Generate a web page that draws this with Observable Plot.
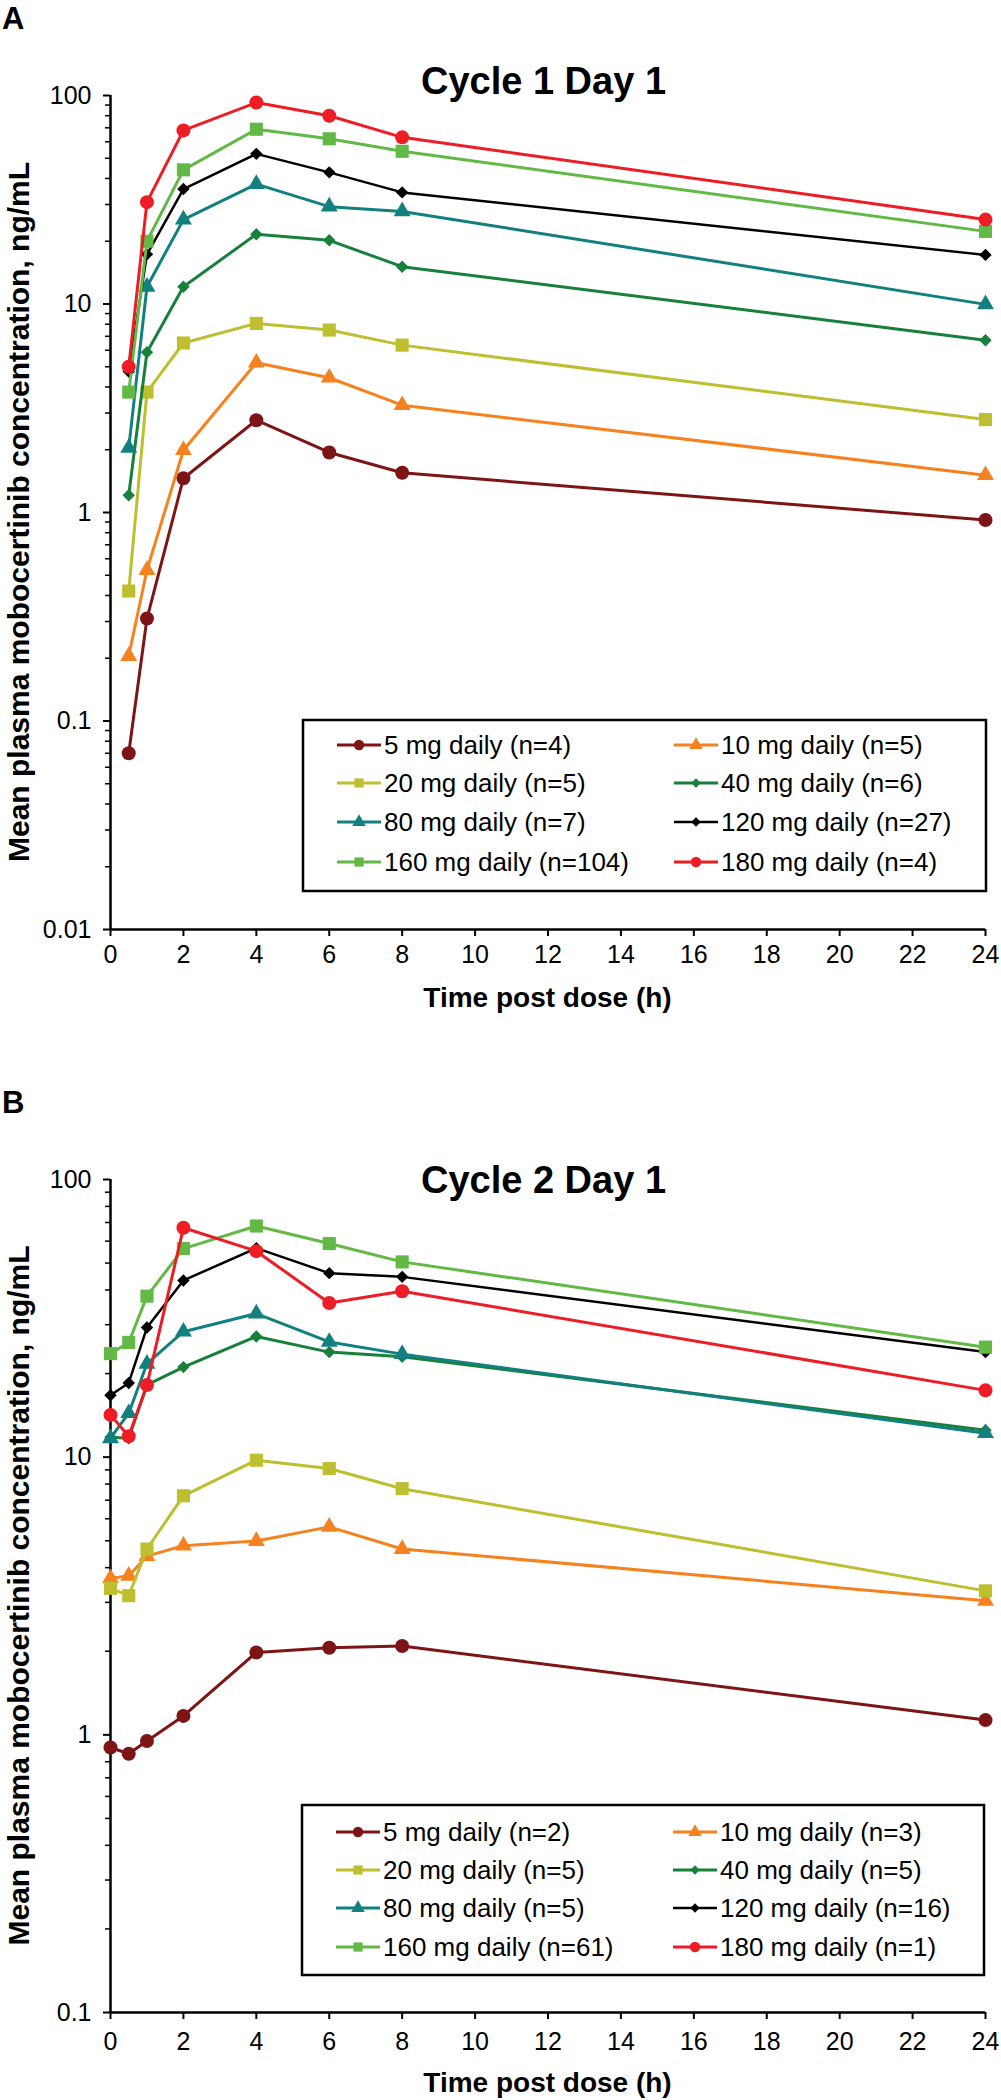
<!DOCTYPE html>
<html><head><meta charset="utf-8">
<script src="https://cdn.jsdelivr.net/npm/d3@7"></script>
<script src="https://cdn.jsdelivr.net/npm/@observablehq/plot@0.6"></script>
<style>
html,body{margin:0;padding:0;background:#fff;}
#chart{width:1001px;}
svg{display:block;overflow:visible;}
</style></head><body><div id="chart"></div>
<script>
// ---- categories / styles ----
const doses = ["5 mg","10 mg","20 mg","40 mg","80 mg","120 mg","160 mg","180 mg"];
const colors = ["#7d1416","#f5821f","#bdbf2e","#17803a","#12807f","#000000","#62b946","#ee1c25"];
const symbols = ["circle","triangle","square","diamond2","triangle","diamond2","square","circle"];

// ---- Cycle 1 Day 1 ----
const timesA = [0.5, 1, 2, 4, 6, 8, 24];
const a5   = [0.07, 0.31, 1.46, 2.77, 1.94, 1.55, 0.92];
const a10  = [0.205, 0.53, 1.99, 5.23, 4.43, 3.27, 1.51];
const a20  = [0.42, 3.78, 6.5, 8.07, 7.5, 6.35, 2.79];
const a40  = [1.21, 5.87, 12.1, 21.6, 20.2, 15.1, 6.7];
const a80  = [2.04, 12.1, 25.4, 37.6, 29.3, 27.8, 9.96];
const a120 = [4.75, 17.3, 35.6, 52.5, 42.8, 34.3, 17.2];
const a160 = [3.78, 20.0, 44.0, 68.9, 62.0, 54.0, 22.3];
const a180 = [5.0, 30.8, 68.0, 92.5, 80.0, 63.0, 25.4];
const legendA = ["5 mg daily (n=4)","10 mg daily (n=5)","20 mg daily (n=5)","40 mg daily (n=6)",
                 "80 mg daily (n=7)","120 mg daily (n=27)","160 mg daily (n=104)","180 mg daily (n=4)"];

// ---- Cycle 2 Day 1 ----
const timesB = [0, 0.5, 1, 2, 4, 6, 8, 24];
const b5   = [0.9, 0.855, 0.95, 1.17, 1.98, 2.06, 2.09, 1.13];
const b10  = [3.66, 3.74, 4.4, 4.8, 4.99, 5.61, 4.67, 3.04];
const b20  = [3.37, 3.17, 4.67, 7.26, 9.75, 9.1, 7.7, 3.3];
const b40  = [11.8, 11.7, 18.2, 21.1, 27.2, 23.9, 23.0, 12.5];
const b80  = [11.7, 14.4, 21.7, 28.3, 32.9, 26.0, 23.5, 12.2];
const b120 = [16.7, 18.5, 29.3, 43.3, 56.6, 46.0, 44.6, 23.9];
const b160 = [23.6, 25.9, 38.0, 56.4, 68.0, 58.8, 50.5, 24.9];
const b180 = [14.2, 11.9, 18.2, 67.0, 55.2, 35.9, 39.6, 17.4];
const legendB = ["5 mg daily (n=2)","10 mg daily (n=3)","20 mg daily (n=5)","40 mg daily (n=5)",
                 "80 mg daily (n=5)","120 mg daily (n=16)","160 mg daily (n=61)","180 mg daily (n=1)"];

// ---- ticks ----
const xTicks = [0,2,4,6,8,10,12,14,16,18,20,22,24];
const yTicksA = [0.01, 0.1, 1, 10, 100];
const yTicksB = [0.1, 1, 10, 100];

const FONT = "'Liberation Sans', Arial, Helvetica, sans-serif";
const rBySymbol = {circle: 7, square: 7.4, triangle: 6.3, diamond2: 5.6};
const d3Sym = {circle: d3.symbolCircle, square: d3.symbolSquare, triangle: d3.symbolTriangle,
               diamond2: d3.symbolDiamond2 || d3.symbolDiamond};

function minorTicks(lo, hi) {
  const out = [];
  for (let d = lo; d < hi * 0.999; d *= 10) for (let k = 2; k <= 9; k++) out.push(+(k * d).toPrecision(3));
  return out;
}

function panel(cfg) {
  const W = 1001, left = 110, right = 16;
  const marks = [];
  cfg.values.forEach((vals, i) => {
    const rows = cfg.times.map((t, j) => ({t, v: vals[j]}));
    marks.push(Plot.line(rows, {x: "t", y: "v", stroke: colors[i], strokeWidth: i === 5 ? 2.5 : 3}));
    marks.push(Plot.dot(rows, {x: "t", y: "v", symbol: symbols[i], fill: colors[i], r: rBySymbol[symbols[i]]}));
  });
  const svg = Plot.plot({
    width: W, height: cfg.height,
    marginLeft: left, marginRight: right, marginTop: cfg.marginTop, marginBottom: cfg.marginBottom,
    style: {fontFamily: FONT, fontSize: "25px", color: "#000", background: "#fff", overflow: "visible"},
    x: {domain: [0, 24], label: null},
    y: {type: "log", domain: cfg.yDomain, label: null},
    marks: [
      Plot.axisY({ticks: minorTicks(cfg.yDomain[0], cfg.yDomain[1]), tickSize: 5, strokeWidth: 1.5, tickFormat: () => "", label: null}),
      Plot.axisY({ticks: cfg.yTicks, tickSize: 7, tickPadding: 12, strokeWidth: 2, tickFormat: d => String(d), fontSize: 25, label: null}),
      Plot.axisX({ticks: xTicks, tickSize: 7, tickPadding: cfg.xTickPad, strokeWidth: 2, tickFormat: d => String(d), fontSize: 25, label: null}),
      Plot.ruleX([0], {strokeWidth: 2.5}),
      Plot.ruleY([cfg.yDomain[0]], {strokeWidth: 2.5}),
      ...marks
    ]
  });
  const g = d3.select(svg);
  const cx = left + (W - left - right) / 2;
  const cy = cfg.marginTop + (cfg.height - cfg.marginTop - cfg.marginBottom) / 2;
  g.append("text").attr("x", 2).attr("y", cfg.letterY).attr("text-anchor", "start").attr("font-size", 31).attr("font-weight", "bold")
    .attr("font-family", FONT).attr("fill", "#000").text(cfg.letter);
  g.append("text").attr("x", cx - 4).attr("y", cfg.titleY).attr("text-anchor", "middle").attr("font-size", 38)
    .attr("font-weight", "bold").attr("font-family", FONT).attr("fill", "#000").text(cfg.title);
  g.append("text").attr("transform", `translate(29,${cy}) rotate(-90)`).attr("text-anchor", "middle")
    .attr("font-size", 30).attr("font-weight", "bold").attr("font-family", FONT).attr("fill", "#000")
    .text("Mean plasma mobocertinib concentration, ng/mL");
  g.append("text").attr("x", cx).attr("y", cfg.xTitleY).attr("text-anchor", "middle").attr("font-size", 28)
    .attr("font-weight", "bold").attr("font-family", FONT).attr("fill", "#000").text("Time post dose (h)");

  // legend
  const [bx0, by0, bx1, by1] = cfg.legendBox;
  const lg = g.append("g");
  lg.append("rect").attr("x", bx0).attr("y", by0).attr("width", bx1 - bx0).attr("height", by1 - by0)
    .attr("fill", "#fff").attr("stroke", "#000").attr("stroke-width", 2.5);
  cfg.labels.forEach((lab, i) => {
    const row = Math.floor(i / 2), col = i % 2;
    const x0 = col ? bx0 + 371 : bx0 + 34, x1 = x0 + 44, y = cfg.legendRows[row];
    lg.append("line").attr("x1", x0).attr("x2", x1).attr("y1", y).attr("y2", y)
      .attr("stroke", colors[i]).attr("stroke-width", i === 5 ? 2.5 : 3);
    const sz = symbols[i] === "diamond2" ? 55 : symbols[i] === "triangle" ? 80 : 85;
    lg.append("path").attr("d", d3.symbol(d3Sym[symbols[i]], sz)())
      .attr("transform", `translate(${(x0 + x1) / 2},${y})`).attr("fill", colors[i]);
    lg.append("text").attr("x", x1 + 3).attr("y", y).attr("dy", "0.36em").attr("text-anchor", "start")
      .attr("font-size", 26).attr("font-family", FONT).attr("fill", "#000").text(lab);
  });
  return svg;
}

const root = document.getElementById("chart");
root.appendChild(panel({
  times: timesA, values: [a5, a10, a20, a40, a80, a120, a160, a180], labels: legendA,
  height: 1050, marginTop: 95, marginBottom: 121, yDomain: [0.01, 100], yTicks: yTicksA, xTickPad: 9,
  letter: "A", letterY: 29, title: "Cycle 1 Day 1", titleY: 94, xTitleY: 1007,
  legendBox: [303, 720, 986, 891], legendRows: [745, 783, 822, 862]
}));
root.appendChild(panel({
  times: timesB, values: [b5, b10, b20, b40, b80, b120, b160, b180], labels: legendB,
  height: 1050, marginTop: 129, marginBottom: 88, yDomain: [0.1, 100], yTicks: yTicksB, xTickPad: 13,
  letter: "B", letterY: 63, title: "Cycle 2 Day 1", titleY: 143, xTitleY: 1042,
  legendBox: [302, 755, 984, 925], legendRows: [782, 820, 858, 897]
}));
</script></body></html>
